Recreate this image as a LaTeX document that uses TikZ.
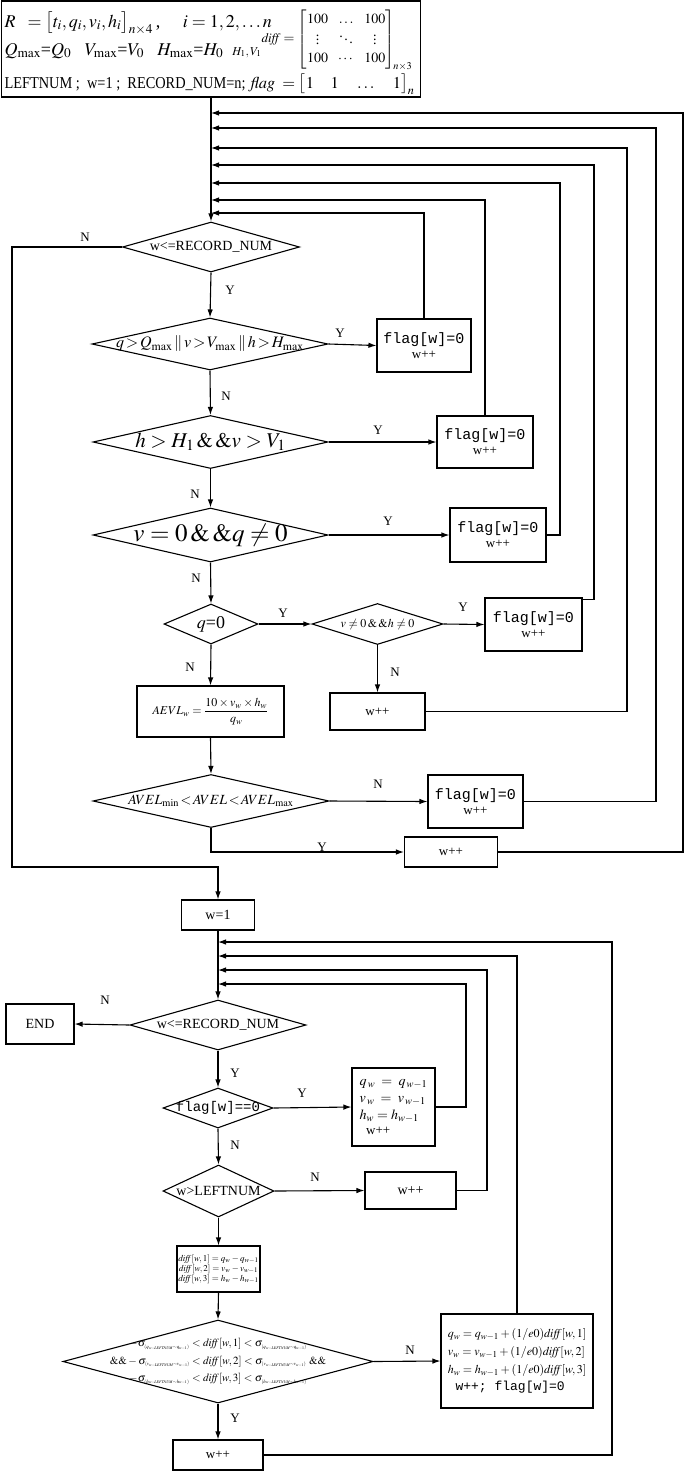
\documentclass[tikz,border=0pt]{standalone}
\usepackage{amsmath}
\usepackage{graphicx}
\usepackage{mathptmx}
\usepackage{fontspec}
\setmainfont{Liberation Serif}
\setmonofont{Liberation Mono}
\usetikzlibrary{shapes.geometric,arrows.meta}
\newcommand{\fs}[1]{\fontsize{#1}{#1}\selectfont}
\newcommand{\sg}[1]{\sigma_{\scalebox{0.6}{$\scriptstyle(#1_{w-\mathit{LEFTNUM}}\sim #1_{w-1})$}}}
\begin{document}
\begin{tikzpicture}[x=1pt,y=-1pt,line width=1.1pt,
  >={Latex[length=8pt,width=5.5pt]},
  box/.style={draw,rectangle,inner sep=0pt,align=center},
  dia/.style={draw,diamond,inner sep=0pt},
  txt/.style={inner sep=0pt,align=center},
  lab/.style={inner sep=0pt,font=\fs{13}}]
\useasboundingbox (0,0) rectangle (685,1473);

% ---------- initialisation box
\node[box,minimum width=419pt,minimum height=96pt] (init) at (211,49) {};
\node[txt,anchor=base west,font=\fs{18}] (l1) at (4,27) {$R\;\;=\bigl[t_i,q_i,v_i,h_i\bigr]_{n\times4}$\,,\quad\ $i=1,2,\ldots n$};
\node[txt,anchor=base west,font=\fs{18}] (l2) at (4,55) {$Q_{\max}$=$Q_0$\enspace\ $V_{\max}$=$V_0$\enspace\ $H_{\max}$=$H_0$\enspace {\fs{12}$H_1,V_1$}};
\node[txt,font=\fs{14}] (mat) at (337,40) {\renewcommand{\arraystretch}{1.3}$\text{\fs{13}$\mathit{diff}$}=\begin{bmatrix}100&\ldots&100\\ \vdots&\ddots&\vdots\\ 100&\cdots&100\end{bmatrix}_{\!n\times3}$};
\node[txt,anchor=base west] (l3) at (4,88) {\resizebox{241pt}{11pt}{LEFTNUM ;\ \ w=1 ;\ \ RECORD\_NUM=n;}};
\node[txt,anchor=base west] (l4) at (250,88) {\resizebox{164pt}{!}{\fs{17}$\mathit{flag}\;=\bigl[1\quad 1\quad \ldots\quad 1\bigr]_{n}$}};

% ---------- first loop
\coordinate (m1) at (211,113);
\coordinate (m2) at (211,128);
\coordinate (m3) at (211,148);
\coordinate (m4) at (211,165);
\coordinate (m5) at (211,183);
\coordinate (m6) at (211,200);
\coordinate (m7) at (211,213);

\node[dia,minimum width=177pt,minimum height=50pt,label={[txt,font=\fs{14}]center:w<=RECORD\_NUM}] (d1) at (211,247) {};
\node[dia,minimum width=236pt,minimum height=52pt,label={[txt,font=\fs{16}]center:$q\!>\!Q_{\max}\,\|\,v\!>\!V_{\max}\,\|\,h\!>\!H_{\max}$}] (d2) at (210,344) {};
\node[box,minimum width=94pt,minimum height=53pt] (b2) at (424,345.5) {{\fs{15}\ttfamily flag[w]=0}\\[3pt]{\fs{13}w++}};
\node[dia,minimum width=235pt,minimum height=53pt,label={[txt,font=\fs{21}]center:$h>H_1\,\&\,\&v>V_1$}] (d3) at (210.5,442) {};
\node[box,minimum width=96pt,minimum height=52pt] (b3) at (485,442) {{\fs{15}\ttfamily flag[w]=0}\\[3pt]{\fs{13}w++}};
\node[dia,minimum width=235pt,minimum height=54pt,label={[txt,font=\fs{25}]center:$v=0\,\&\,\&q\neq0$}] (d4) at (210.5,535) {};
\node[box,minimum width=96pt,minimum height=54pt] (b4) at (498,535) {{\fs{15}\ttfamily flag[w]=0}\\[3pt]{\fs{13}w++}};
\node[dia,minimum width=94pt,minimum height=40pt,label={[txt,font=\fs{18}]center:$q$=0}] (d5) at (211,624) {};
\node[dia,minimum width=131pt,minimum height=41pt,label={[txt,font=\fs{12}]center:$v\neq0\,\&\,\&h\neq0$}] (d6) at (377.5,624) {};
\node[box,minimum width=97pt,minimum height=53pt] (b6) at (533.5,624.5) {{\fs{15}\ttfamily flag[w]=0}\\[3pt]{\fs{13}w++}};
\node[box,minimum width=147pt,minimum height=51pt,font=\fs{12}] (b7) at (210.5,711.5) {$AEVL_w=\dfrac{10\times v_w\times h_w}{q_w}$};
\node[box,minimum width=95pt,minimum height=37pt,font=\fs{13}] (b8) at (377.5,711.5) {w++};
\node[dia,minimum width=236pt,minimum height=53pt,label={[txt,font=\fs{14}]center:$AVEL_{\min}\!<\!AVEL\!<\!AVEL_{\max}$}] (d7) at (211,801) {};
\node[box,minimum width=95pt,minimum height=53pt] (b9) at (475.5,801.5) {{\fs{15}\ttfamily flag[w]=0}\\[3pt]{\fs{13}w++}};
\node[box,minimum width=93pt,minimum height=30pt,font=\fs{13}] (b10) at (451,852) {w++};
\node[box,minimum width=73pt,minimum height=30pt,font=\fs{14}] (b11) at (218,915) {w=1};

\draw[->] (init.south) -- (d1.north);
\draw[->] (d1.south) -- (d2.north);
\draw[->] (d2.east) -- (b2.west);
\draw[->] (d2.south) -- (d3.north);
\draw[->] (d3.east) -- (b3.west);
\draw[->] (d3.south) -- (d4.north);
\draw[->] (d4.east) -- (b4.west);
\draw[->] (d4.south) -- (d5.north);
\draw[->] (d5.east) -- (d6.west);
\draw[->] (d6.east) -- (b6.west);
\draw[->] (d6.south) -- (b8.north);
\draw[->] (d5.south) -- (b7.north);
\draw[->] (b7.south) -- (d7.north);
\draw[->] (d7.east) -- (b9.west);
\draw[->] (d7.south) |- (b10.west);
\draw[->] (d1.west) -| (12,867) -| (b11.north);

\draw[->] (b2.north) |- (m7);
\draw[->] (b3.north) |- (m6);
\draw[->] (b4.east) -| (560,183) -- (m5);
\draw[->] (b6.north east) ++(0,2) -| (594,165) -- (m4);
\draw[->] (b8.east) -| (627,148) -- (m3);
\draw[->] (b9.east) -| (656,128) -- (m2);
\draw[->] (b10.east) -| (683,113) -- (m1);

\node[lab] (t1) at (85,237) {N};
\node[lab] (t2) at (230,290) {Y};
\node[lab] (t3) at (340,333) {Y};
\node[lab] (t4) at (226,396) {N};
\node[lab] (t5) at (378,430) {Y};
\node[lab] (t6) at (195,494) {N};
\node[lab] (t7) at (388,521) {Y};
\node[lab] (t8) at (196,578) {N};
\node[lab] (t9) at (283,613) {Y};
\node[lab] (t10) at (463,607) {Y};
\node[lab] (t11) at (190,667) {N};
\node[lab] (t12) at (395,672) {N};
\node[lab] (t13) at (378,784) {N};
\node[lab] (t14) at (322,847) {Y};

% ---------- second loop
\coordinate (n1) at (218,942);
\coordinate (n2) at (218,956);
\coordinate (n3) at (218,970);
\coordinate (n4) at (218,984);

\node[dia,minimum width=176pt,minimum height=50pt,label={[txt,font=\fs{14}]center:w<=RECORD\_NUM}] (d8) at (218,1025) {};
\node[box,minimum width=68pt,minimum height=40pt,font=\fs{14}] (end) at (40,1024) {END};
\node[dia,minimum width=110pt,minimum height=40pt,label={[txt,font=\fs{14}\ttfamily]center:flag[w]==0}] (d9) at (218,1108) {};
\node[box,minimum width=83pt,minimum height=78pt,align=left,font=\fs{14}] (b12) at (393.5,1107) {$q_{\,w}\;=\;q_{\,w-1}$\\[3pt]$v_{\,w}\;=\;v_{\,w-1}$\\[3pt]$h_w=h_{w-1}$\\[1pt]{\fs{13}\ \ w++}};
\node[dia,minimum width=111pt,minimum height=52pt,label={[txt,font=\fs{14}]center:w>LEFTNUM}] (d10) at (218.5,1191) {};
\node[box,minimum width=91pt,minimum height=37pt,font=\fs{14}] (b13) at (410.5,1190.5) {w++};
\node[box,minimum width=83pt,minimum height=46pt,font=\fs{9}] (b14) at (218.5,1269) {$\mathit{diff}[w,1]=q_w-q_{w-1}$\\[1pt]$\mathit{diff}[w,2]=v_w-v_{w-1}$\\[1pt]$\mathit{diff}[w,3]=h_w-h_{w-1}$};
\node[dia,minimum width=310pt,minimum height=83pt,label={[txt,font=\fs{11}]center:{$-\sg{q}<\mathit{diff}[w,1]<\sg{q}$\\[5pt]$\&\&-\sg{v}<\mathit{diff}[w,2]<\sg{v}\ \&\&$\\[5pt]$-\sg{h}<\mathit{diff}[w,3]<\sg{h}$}}] (d11) at (218,1361.5) {};
\node[box,minimum width=152pt,minimum height=94pt,align=left,font=\fs{12}] (b15) at (517,1361) {$q_w=q_{w-1}+(1/e0)\mathit{diff}[w,1]$\\[6pt]$v_w=v_{w-1}+(1/e0)\mathit{diff}[w,2]$\\[6pt]$h_w=h_{w-1}+(1/e0)\mathit{diff}[w,3]$\\[4pt]{\ttfamily\fs{13}\ w++;\ flag[w]=0}};
\node[box,minimum width=90pt,minimum height=30pt,font=\fs{13}] (b16) at (218,1455) {w++};

\draw[->] (b11.south) -- (d8.north);
\draw[->] (d8.west) -- (end.east);
\draw[->] (d8.south) -- (d9.north);
\draw[->] (d9.east) -- (b12.west);
\draw[->] (d9.south) -- (d10.north);
\draw[->] (d10.east) -- (b13.west);
\draw[->] (d10.south) -- (b14.north);
\draw[->] (b14.south) -- (d11.north);
\draw[->] (d11.east) -- (b15.west);
\draw[->] (d11.south) -- (b16.north);

\draw[->] (b16.east) -| (612,942) -- (n1);
\draw[->] (b15.north) |- (n2);
\draw[->] (b13.east) -| (487,970) -- (n3);
\draw[->] (b12.east) -| (466,984) -- (n4);

\node[lab] (u1) at (105,1000) {N};
\node[lab] (u2) at (235,1073) {Y};
\node[lab] (u3) at (302,1093) {Y};
\node[lab] (u4) at (235,1145) {N};
\node[lab] (u5) at (315,1177) {N};
\node[lab] (u6) at (410,1350) {N};
\node[lab] (u7) at (235,1418) {Y};
\end{tikzpicture}
\end{document}
